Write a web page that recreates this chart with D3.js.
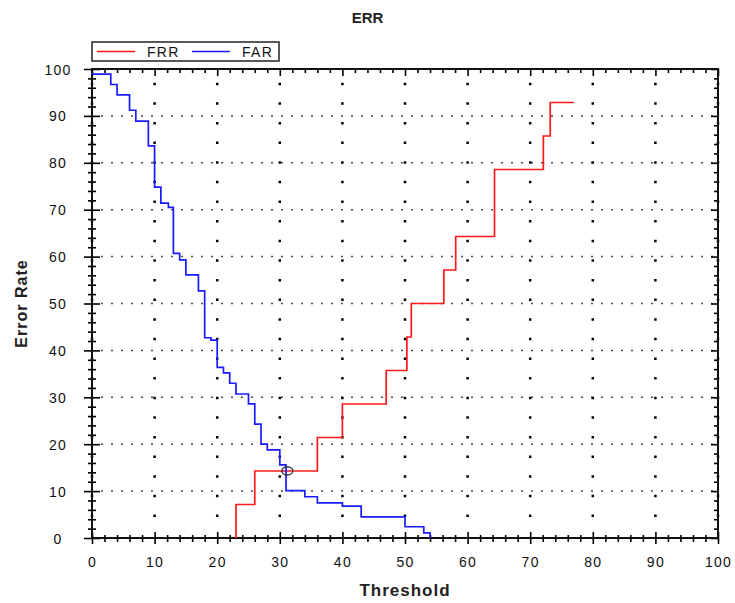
<!DOCTYPE html>
<html>
<head>
<meta charset="utf-8">
<script src="https://cdn.jsdelivr.net/npm/d3@7/dist/d3.min.js"></script>
<style>
  body { margin: 0; background: #fff; }
  svg { display: block; font-family: Arial, "Liberation Sans", sans-serif; }
  .tick-label { font-size: 14px; letter-spacing: 1.3px; fill: #111; }
  .axis-title { font-size: 16px; font-weight: bold; letter-spacing: 1px; fill: #222; }
</style>
</head>
<body>
<svg id="err-chart"></svg>
<script>
// threshold -> error rate, step points
var frrThreshold = [23, 23, 26, 36, 40, 47, 50.3, 51, 56.2, 58.1, 64.3, 72.1, 73.2, 77];
var frrRate = [0, 7.14, 14.29, 21.43, 28.57, 35.71, 42.86, 50, 57.14, 64.29, 78.57, 85.71, 92.86, 92.86];

var farThreshold = [0, 3, 4, 6, 7, 9, 10, 11, 12.2, 13, 14, 15, 17, 18, 19, 20, 21, 22, 23, 25, 26, 27, 28, 30, 31, 34, 36, 40, 43, 50, 53, 54];
var farRate = [98.9, 96.7, 94.5, 91.2, 88.9, 83.6, 74.8, 71.4, 70.5, 60.7, 59.3, 56.1, 52.7, 42.7, 42.2, 36.4, 35.2, 33.0, 30.7, 28.6, 24.3, 20.0, 18.8, 15.6, 10.1, 8.8, 7.5, 6.8, 4.5, 2.4, 1.1, 0];

var eerPoint = [31.2, 14.3];

var xTicks = [0, 10, 20, 30, 40, 50, 60, 70, 80, 90, 100];
var yTicks = [0, 10, 20, 30, 40, 50, 60, 70, 80, 90, 100];
var minorStep = 2;

var seriesNames = ['FRR', 'FAR'];
var seriesColors = ['#ff1a1a', '#1a1aff'];

var ErrChart = {
  width: 735,
  height: 603,
  margin: { top: 69, right: 17, bottom: 65, left: 92 },

  build: function () {
    var m = this.margin;
    var w = this.width - m.left - m.right;
    var h = this.height - m.top - m.bottom;

    var svg = d3.select('#err-chart')
      .attr('width', this.width)
      .attr('height', this.height);

    var x = d3.scaleLinear().domain([0, 100]).range([m.left, m.left + w]);
    var y = d3.scaleLinear().domain([0, 100]).range([m.top + h, m.top]);

    var minorX = d3.range(0, 100.001, minorStep).filter(function (v) { return v % 10 !== 0; });
    var minorY = d3.range(0, 100.001, minorStep).filter(function (v) { return v % 10 !== 0; });

    // dotted grid: fine dots along the horizontal lines, coarse dots down the vertical ones
    var grid = svg.append('g');
    grid.selectAll('.hgrid')
      .data(yTicks.slice(1, -1))
      .enter().append('line')
      .attr('x1', x(0) + 9.25).attr('x2', x(100) - 2)
      .attr('y1', function (d) { return y(d); })
      .attr('y2', function (d) { return y(d); })
      .attr('stroke', '#111')
      .attr('stroke-width', 1.5)
      .attr('stroke-dasharray', '1.5 8.5');
    grid.selectAll('.vgrid')
      .data(xTicks)
      .enter().append('line')
      .attr('x1', function (d) { return x(d); })
      .attr('x2', function (d) { return x(d); })
      .attr('y1', y(100) + 13.75).attr('y2', y(0) - 20)
      .attr('stroke', '#000')
      .attr('stroke-width', 2.5)
      .attr('stroke-dasharray', '2.5 17.12');

    function styleAxis(g) {
      g.select('.domain').remove();
      g.selectAll('.tick line').attr('stroke', '#000').attr('stroke-width', 1.6);
    }
    function noLabels(g) { g.selectAll('text').remove(); }

    // left axis, ticks crossing the line
    svg.append('g').attr('transform', 'translate(' + x(0) + ',0)')
      .call(d3.axisLeft(y).tickValues(yTicks).tickSize(8).tickFormat(d3.format('d')))
      .call(styleAxis)
      .call(function (g) {
        g.selectAll('text').attr('class', 'tick-label')
          .attr('text-anchor', 'middle').attr('x', 58 - x(0)).attr('dy', '0.36em')
          .attr('font-family', null).attr('font-size', null);
      });
    svg.append('g').attr('transform', 'translate(' + x(0) + ',0)')
      .call(d3.axisRight(y).tickValues(yTicks).tickSize(8)).call(styleAxis).call(noLabels);
    svg.append('g').attr('transform', 'translate(' + x(0) + ',0)')
      .call(d3.axisLeft(y).tickValues(minorY).tickSize(4)).call(styleAxis).call(noLabels);
    svg.append('g').attr('transform', 'translate(' + x(0) + ',0)')
      .call(d3.axisRight(y).tickValues(minorY).tickSize(4)).call(styleAxis).call(noLabels);

    // bottom axis, ticks crossing the line
    svg.append('g').attr('transform', 'translate(0,' + y(0) + ')')
      .call(d3.axisBottom(x).tickValues(xTicks).tickSize(6).tickPadding(13).tickFormat(d3.format('d')))
      .call(styleAxis)
      .call(function (g) {
        g.selectAll('text').attr('class', 'tick-label')
          .attr('font-family', null).attr('font-size', null);
      });
    svg.append('g').attr('transform', 'translate(0,' + y(0) + ')')
      .call(d3.axisTop(x).tickValues(xTicks).tickSize(6)).call(styleAxis).call(noLabels);
    svg.append('g').attr('transform', 'translate(0,' + y(0) + ')')
      .call(d3.axisBottom(x).tickValues(minorX).tickSize(4)).call(styleAxis).call(noLabels);
    svg.append('g').attr('transform', 'translate(0,' + y(0) + ')')
      .call(d3.axisTop(x).tickValues(minorX).tickSize(3)).call(styleAxis).call(noLabels);

    // top axis, ticks pointing in
    svg.append('g').attr('transform', 'translate(0,' + y(100) + ')')
      .call(d3.axisBottom(x).tickValues(xTicks).tickSize(7)).call(styleAxis).call(noLabels);
    svg.append('g').attr('transform', 'translate(0,' + y(100) + ')')
      .call(d3.axisBottom(x).tickValues(minorX).tickSize(4)).call(styleAxis).call(noLabels);

    // right axis, ticks pointing in
    svg.append('g').attr('transform', 'translate(' + x(100) + ',0)')
      .call(d3.axisLeft(y).tickValues(yTicks).tickSize(7)).call(styleAxis).call(noLabels);
    svg.append('g').attr('transform', 'translate(' + x(100) + ',0)')
      .call(d3.axisLeft(y).tickValues(minorY).tickSize(4)).call(styleAxis).call(noLabels);

    // frame
    svg.append('rect')
      .attr('x', x(0)).attr('y', y(100))
      .attr('width', x(100) - x(0)).attr('height', y(0) - y(100))
      .attr('fill', 'none').attr('stroke', '#111').attr('stroke-width', 2);

    // step curves
    var line = d3.line()
      .x(function (d) { return x(d[0]); })
      .y(function (d) { return y(d[1]); })
      .curve(d3.curveStepAfter);
    var frr = d3.zip(frrThreshold, frrRate);
    var far = d3.zip(farThreshold, farRate);
    [frr, far].forEach(function (pts, i) {
      svg.append('path')
        .datum(pts)
        .attr('d', line)
        .attr('fill', 'none')
        .attr('stroke', seriesColors[i])
        .attr('stroke-width', 1.7);
    });

    // equal error rate marker
    svg.append('ellipse')
      .attr('cx', x(eerPoint[0])).attr('cy', y(eerPoint[1]))
      .attr('rx', 5.5).attr('ry', 4)
      .attr('fill', 'none').attr('stroke', '#222').attr('stroke-width', 1.3);

    // titles
    svg.append('text')
      .attr('x', this.width / 2).attr('y', 23)
      .attr('text-anchor', 'middle')
      .attr('font-size', 15).attr('font-weight', 'bold').attr('fill', '#222')
      .text('ERR');
    svg.append('text')
      .attr('class', 'axis-title')
      .attr('x', (x(0) + x(100)) / 2).attr('y', 596)
      .attr('text-anchor', 'middle')
      .style('font-size', '17px')
      .text('Threshold');
    svg.append('text')
      .attr('class', 'axis-title')
      .attr('transform', 'translate(27,' + ((y(0) + y(100)) / 2) + ') rotate(-90)')
      .attr('text-anchor', 'middle')
      .text('Error Rate');

    // legend
    var lg = svg.append('g').attr('transform', 'translate(92,42)');
    lg.append('rect')
      .attr('width', 187).attr('height', 19)
      .attr('fill', '#fff').attr('stroke', '#222').attr('stroke-width', 1.5);
    var offsets = [5, 100];
    seriesNames.forEach(function (name, i) {
      lg.append('line')
        .attr('x1', offsets[i]).attr('x2', offsets[i] + 38)
        .attr('y1', 9.5).attr('y2', 9.5)
        .attr('stroke', seriesColors[i]).attr('stroke-width', 1.5);
      lg.append('text')
        .attr('class', 'tick-label')
        .attr('x', offsets[i] + 50).attr('y', 14.5)
        .text(name);
    });
  },

  init: function () {
    this.build();
  }
};

ErrChart.init();
</script>
</body>
</html>
